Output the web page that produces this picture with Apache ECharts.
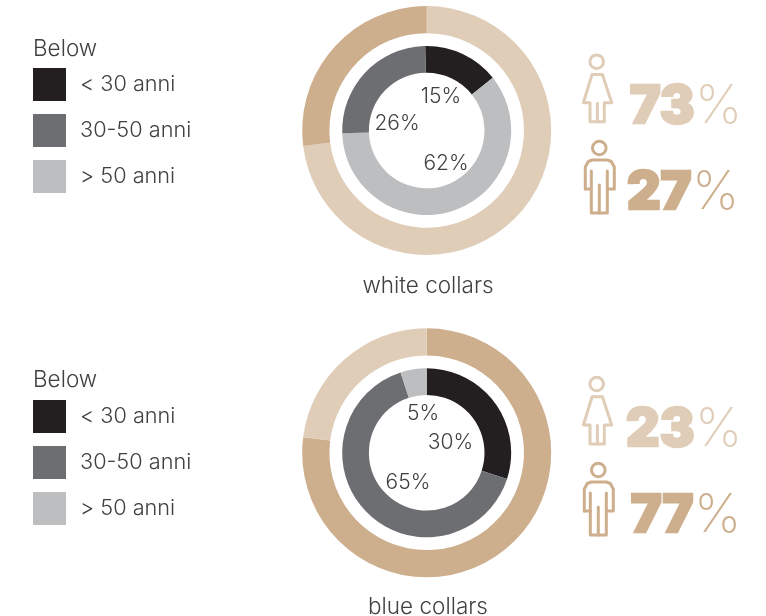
<!DOCTYPE html>
<html>
<head>
<meta charset="utf-8">
<style>html,body{margin:0;padding:0;background:#fff}#c{width:766px;height:616px}</style>
<script src="https://cdn.jsdelivr.net/npm/echarts@6/dist/echarts.min.js"></script>
</head>
<body>
<div id="c"></div>
<script>
// Workforce composition by gender and age band
const ageBands = ['< 30 anni', '30-50 anni', '> 50 anni'];
const whiteAge = [15, 26, 62];
const blueAge = [30, 65, 5];
const whiteAgeOrder = [0, 2, 1];
const blueAgeOrder = [0, 1, 2];
const genders = ['donne', 'uomini'];
const whiteGender = [73, 27];
const blueGender = [23, 77];
const whiteGenderOrder = [0, 1];
const blueGenderOrder = [1, 0];
const groupNames = ['white collars', 'blue collars'];
const legendHeading = 'Below';

const C = { ink: '#404041', tanLight: '#E0CDB8', tanDark: '#CDAE8D' };
const ageColors = ['#231F20', '#6D6E71', '#BCBEC0'];
const genderColors = [C.tanLight, C.tanDark];
const FONT = 'Inter, "Open Sans", sans-serif';

// Pixel placement of the percentage labels in each ring's hole
const whiteLabelAt = [[441, 97], [446, 164], [397, 124]];
const blueLabelAt = [[450.5, 443], [408, 483], [423, 414]];

function ageSeries(values, order, cy, labelAt, start) {
  return {
    type: 'pie', silent: true, animation: false, clockwise: true, startAngle: start,
    center: [426.7, cy], radius: [57.8, 84.5],
    data: order.map(i => ({ name: ageBands[i], value: values[i], itemStyle: { color: ageColors[i] } })),
    label: { show: true, position: 'inside', formatter: '{c}%', color: C.ink, fontFamily: FONT, fontWeight: 300, fontSize: 21 },
    labelLine: { show: false },
    labelLayout: p => ({ x: labelAt[p.dataIndex][0], y: labelAt[p.dataIndex][1], align: 'center', verticalAlign: 'middle' }),
    emphasis: { disabled: true }
  };
}
function genderSeries(values, order, cy) {
  return {
    type: 'pie', silent: true, animation: false, clockwise: true, startAngle: 90,
    center: [426.7, cy], radius: [97.3, 124.5],
    data: order.map(i => ({ name: genders[i], value: values[i], itemStyle: { color: genderColors[i] } })),
    label: { show: false }, labelLine: { show: false }, emphasis: { disabled: true }
  };
}
function ageLegend(top) {
  return {
    data: ageBands, orient: 'vertical', left: 33, top: top, padding: 0,
    itemWidth: 33, itemHeight: 33, itemGap: 13, icon: 'rect', selectedMode: false,
    textStyle: { color: C.ink, fontFamily: FONT, fontWeight: 300, fontSize: 21.7, padding: [5, 0, 0, 9] }
  };
}
function heading(text, x, y, align) {
  return { text, left: x, top: y, textAlign: align, padding: 0,
    textStyle: { color: C.ink, fontFamily: FONT, fontWeight: 300, fontSize: 22.5, lineHeight: 24 } };
}
function figure(kind, color, x, y) {
  const stroke = { stroke: color, lineWidth: 3, fill: 'none', lineJoin: 'round', lineCap: 'round' };
  const parts = kind === 'w' ? [
    [[-4.6, 12.7], [-13.3, 41], [-6.7, 41], [-6.7, 60], [7.6, 60], [7.6, 41], [15, 41], [5.7, 12.7], [-4.6, 12.7]],
    [[0.7, 41.5], [0.7, 60]]
  ] : [
    [[-14, 41], [-14, 19], [-11, 13.5], [-7, 12], [8, 12], [12, 13.5], [15, 19], [15, 41], [9, 41]],
    [[-14, 41], [-8, 41]],
    [[-8, 23], [-8, 65], [8, 65], [8, 23]],
    [[0, 37], [0, 65]]
  ];
  return {
    type: 'group', x, y,
    children: [
      { type: 'circle', shape: { cx: 0, cy: 0, r: 6.8 }, style: stroke },
      ...parts.map(points => ({ type: 'polyline', shape: { points }, style: stroke }))
    ]
  };
}
function share(value, color, right, pctLeft, cy) {
  return [
    { type: 'text', style: { x: right, y: cy, text: String(value), align: 'right', verticalAlign: 'middle', fill: color, stroke: color, lineWidth: 2.4, fontFamily: FONT, fontWeight: 900, fontSize: 52 } },
    { type: 'text', style: { x: pctLeft, y: cy, text: '%', align: 'left', verticalAlign: 'middle', fill: color, fontFamily: FONT, fontWeight: 200, fontSize: 53 } }
  ];
}

const chart = echarts.init(document.getElementById('c'), null, { renderer: 'canvas' });
chart.setOption({
  backgroundColor: '#fff',
  title: [
    heading(legendHeading, 33, 37, 'left'),
    heading(legendHeading, 33, 368, 'left'),
    heading(groupNames[0], 428, 274, 'center'),
    heading(groupNames[1], 428, 595, 'center')
  ],
  legend: [ageLegend(68), ageLegend(400)],
  series: [
    genderSeries(whiteGender, whiteGenderOrder, 130.5),
    ageSeries(whiteAge, whiteAgeOrder, 130.5, whiteLabelAt, 91),
    genderSeries(blueGender, blueGenderOrder, 452.8),
    ageSeries(blueAge, blueAgeOrder, 452.8, blueLabelAt, 90)
  ],
  graphic: [
    figure('w', C.tanLight, 596.7, 61.7),
    figure('m', C.tanDark, 599.3, 148),
    figure('w', C.tanLight, 596.7, 384),
    figure('m', C.tanDark, 598.3, 470),
    ...share(whiteGender[0], C.tanLight, 694.5, 695, 107),
    ...share(whiteGender[1], C.tanDark, 691.5, 692, 193),
    ...share(blueGender[0], C.tanLight, 694.5, 695, 430),
    ...share(blueGender[1], C.tanDark, 693.5, 694, 516)
  ]
});
</script>
</body>
</html>
